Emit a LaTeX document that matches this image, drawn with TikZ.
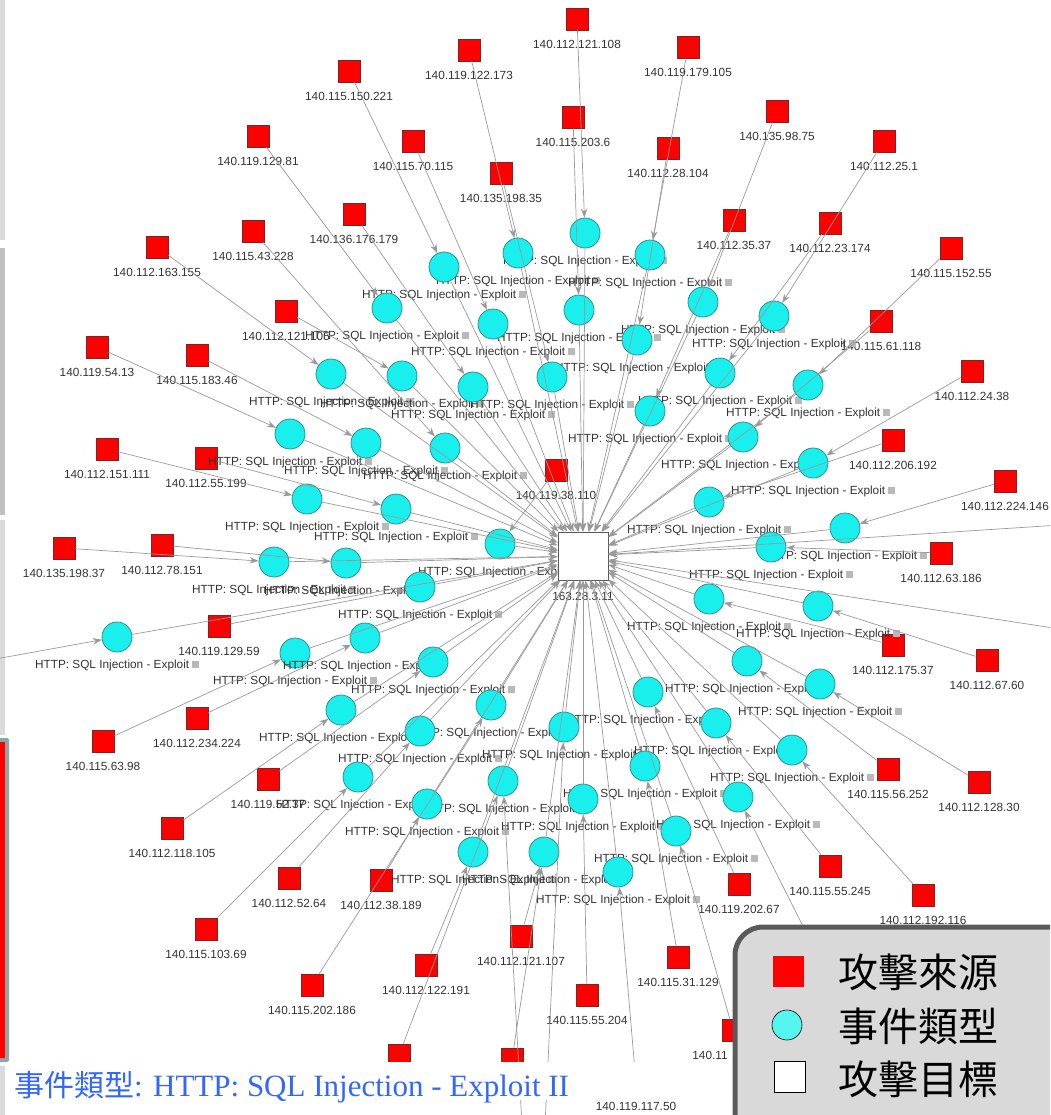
\documentclass[tikz,border=0pt]{standalone}
\usepackage{fontspec}
\setmainfont{Liberation Sans}
\newfontfamily\capfont{Liberation Serif}
\newfontfamily\cjkfont{Noto Sans CJK TC}
\usetikzlibrary{arrows.meta}

\definecolor{srcred}{HTML}{FF0000}
\definecolor{srcedge}{HTML}{7A2626}
\definecolor{evcyan}{HTML}{19F0EE}
\definecolor{evedge}{HTML}{2F8F8F}
\definecolor{linkgray}{HTML}{999999}
\definecolor{lbltxt}{HTML}{333333}
\definecolor{capblue}{HTML}{3366FF}
\definecolor{legfill}{HTML}{D9D9D9}
\definecolor{legline}{HTML}{5A5A5A}
\definecolor{legcyan}{HTML}{55F5F0}
\definecolor{barlight}{HTML}{DADADA}
\definecolor{bardark}{HTML}{C0C0C0}
\definecolor{barframe}{HTML}{8FA5A5}

\newcommand{\evtxt}{HTTP: SQL Injection - Exploit \textcolor{gray!55}{\rule{0.55em}{0.62em}}}

\tikzset{
  src/.style={draw=srcedge,fill=srcred,line width=0.8pt,minimum size=22pt,inner sep=0pt},
  ev/.style={circle,draw=evedge,fill=evcyan,line width=0.8pt,minimum size=30pt,inner sep=0pt},
  tgt/.style={draw=legline,fill=white,line width=0.8pt,minimum width=50pt,minimum height=48pt,inner sep=0pt},
  ip/.style={font=\fontsize{11.8}{13}\selectfont,text=lbltxt,inner sep=1pt},
  srclbl/.style={ip,yshift=-9pt},
  evlbl/.style={ip,yshift=-6pt},
  tgtlbl/.style={ip,yshift=-11pt},
  link/.style={draw=linkgray,line width=0.7pt,-{Stealth[length=9pt,width=6.5pt]}},
  legtxt/.style={font=\cjkfont\fontsize{40}{44}\selectfont,inner sep=0pt}
}

\begin{document}
\begin{tikzpicture}[x=1pt,y=-1pt]
\useasboundingbox (0,0) rectangle (1050,1115);
\clip (0,0) rectangle (1050,1115);

% side bars of the slide
\fill [barlight] (0,0) rectangle (5,240);
\fill [bardark] (0,248) rectangle (5,515);
\fill [barlight] (0,520) rectangle (5,735);
\fill [barframe,rounded corners=2pt] (-4,738) rectangle (9,1062);
\fill [srcred] (0,742) rectangle (5,1058);
\fill [barlight] (0,1066) rectangle (5,1115);

% attack sources
\node [src,label={[srclbl]below:140.112.121.108}] (s1) at (577,19) {};
\node [src,label={[srclbl]below:140.119.122.173}] (s2) at (469,50) {};
\node [src,label={[srclbl]below:140.119.179.105}] (s3) at (688,47) {};
\node [src,label={[srclbl]below:140.115.150.221}] (s4) at (349,71) {};
\node [src,label={[srclbl]below:140.115.203.6}] (s5) at (573,117) {};
\node [src,label={[srclbl]below:140.135.98.75}] (s6) at (777,111) {};
\node [src,label={[srclbl]below:140.119.129.81}] (s7) at (258,136) {};
\node [src,label={[srclbl]below:140.115.70.115}] (s8) at (413,141) {};
\node [src,label={[srclbl]below:140.112.28.104}] (s9) at (668,148) {};
\node [src,label={[srclbl]below:140.112.25.1}] (s10) at (884,141) {};
\node [src,label={[srclbl]below:140.135.198.35}] (s11) at (501,173) {};
\node [src,label={[srclbl]below:140.136.176.179}] (s12) at (354,214) {};
\node [src,label={[srclbl]below:140.112.35.37}] (s13) at (734,220) {};
\node [src,label={[srclbl]below:140.112.23.174}] (s14) at (830,223) {};
\node [src,label={[srclbl]below:140.112.163.155}] (s15) at (157,247) {};
\node [src,label={[srclbl]below:140.115.43.228}] (s16) at (253,231) {};
\node [src,label={[srclbl]below:140.115.152.55}] (s17) at (951,248) {};
\node [src,label={[srclbl]below:140.112.121.105}] (s18) at (286,311) {};
\node [src,label={[srclbl]below:140.115.61.118}] (s19) at (881,321) {};
\node [src,label={[srclbl]below:140.119.54.13}] (s20) at (97,347) {};
\node [src,label={[srclbl]below:140.115.183.46}] (s21) at (197,355) {};
\node [src,label={[srclbl]below:140.112.24.38}] (s22) at (972,371) {};
\node [src,label={[srclbl]below:140.112.151.111}] (s23) at (107,449) {};
\node [src,label={[srclbl]below:140.112.55.199}] (s24) at (206,458) {};
\node [src,label={[srclbl]below:140.112.206.192}] (s25) at (893,440) {};
\node [src,label={[srclbl]below:140.119.38.110}] (s26) at (556,470) {};
\node [src,label={[srclbl]below:140.112.224.146}] (s27) at (1005,481) {};
\node [src,label={[srclbl]below:140.135.198.37}] (s28) at (64,548) {};
\node [src,label={[srclbl]below:140.112.78.151}] (s29) at (162,545) {};
\node [src,label={[srclbl]below:140.112.63.186}] (s30) at (941,553) {};
\node [src,label={[srclbl]below:140.119.129.59}] (s31) at (219,626) {};
\node [src,label={[srclbl]below:140.112.175.37}] (s32) at (893,645) {};
\node [src,label={[srclbl]below:140.112.67.60}] (s33) at (987,660) {};
\node [src,label={[srclbl]below:140.112.234.224}] (s34) at (197,718) {};
\node [src,label={[srclbl]below:140.115.63.98}] (s35) at (103,741) {};
\node [src,label={[srclbl]below:140.119.52.37}] (s36) at (268,779) {};
\node [src,label={[srclbl]below:140.115.56.252}] (s37) at (888,769) {};
\node [src,label={[srclbl]below:140.112.128.30}] (s38) at (979,782) {};
\node [src,label={[srclbl]below:140.112.118.105}] (s39) at (172,828) {};
\node [src,label={[srclbl]below:140.112.52.64}] (s40) at (289,878) {};
\node [src,label={[srclbl]below:140.112.38.189}] (s41) at (381,880) {};
\node [src,label={[srclbl]below:140.115.55.245}] (s42) at (830,866) {};
\node [src,label={[srclbl]below:140.119.202.67}] (s43) at (739,884) {};
\node [src,label={[srclbl]below:140.112.192.116}] (s44) at (923,895) {};
\node [src,label={[srclbl]below:140.115.103.69}] (s45) at (206,929) {};
\node [src,label={[srclbl]below:140.112.121.107}] (s46) at (521,936) {};
\node [src,label={[srclbl]below:140.115.31.129}] (s47) at (678,957) {};
\node [src,label={[srclbl]below:140.112.122.191}] (s48) at (426,965) {};
\node [src,label={[srclbl]below:140.115.55.204}] (s49) at (587,995) {};
\node [src,label={[srclbl]below:140.115.202.186}] (s50) at (312,985) {};
\node [src] (s51) at (399,1055) {};
\node [src] (s52) at (512,1059) {};
\node [src,label={[srclbl,yshift=2pt]below:140.119.117.50}] (s53) at (636,1083) {};
\node [src,label={[srclbl,xshift=-23pt]below:140.11}] (s54) at (733,1030) {};
\coordinate (h55) at (835,990);
\coordinate (oL) at (-10,660);
\coordinate (oR1) at (1060,525);
\coordinate (oR2) at (1060,629);
\coordinate (oB1) at (545,1125);
\coordinate (oB2) at (522,1125);

% event type nodes
\foreach \n/\x/\y in {1/585/233, 2/518/253, 3/650/255, 4/444/267, 5/579/310, 6/387/308,
  7/703/302, 8/493/324, 9/637/340, 10/774/316, 11/331/374, 12/402/376, 13/552/377,
  14/473/387, 15/720/373, 16/808/385, 17/650/411, 18/290/434, 19/366/443, 20/445/448,
  21/743/437, 22/813/463, 23/307/499, 24/709/502, 25/396/509, 26/845/528, 27/500/544,
  28/771/547, 29/274/562, 30/346/563, 31/420/587, 32/709/599, 33/818/606, 34/117/637,
  35/295/653, 36/365/638, 37/433/662, 38/747/661, 39/820/684, 40/648/692, 41/491/705,
  42/341/710, 43/420/731, 44/564/727, 45/716/723, 46/792/750, 47/503/781, 48/645/766,
  49/358/777, 50/427/804, 51/583/799, 52/738/797, 53/676/831, 54/473/852, 55/544/852,
  56/618/872}
  \node [ev,label={[evlbl]below:\evtxt}] (e\n) at (\x,\y) {};

% attack target
\node [tgt,label={[tgtlbl]below:163.28.3.11}] (t) at (583,556) {};

% source -> event
\foreach \s/\e in {s1/e1, s2/e2, s3/e3, s4/e4, s5/e5, s7/e6, s6/e7, s8/e8, s9/e9,
  s10/e10, s15/e11, s18/e12, s11/e13, s12/e14, s14/e15, s17/e16, s13/e17, s20/e18,
  s21/e19, s16/e20, s19/e21, s22/e22, s23/e23, s25/e24, s24/e25, s27/e26, s26/e27,
  s30/e28, s28/e29, s29/e30, s31/e31, s32/e32, s33/e33, oL/e34, s35/e35, s34/e36,
  s36/e37, s37/e38, s38/e39, s43/e40, s50/e41, s39/e42, s40/e43, oB1/e44, s42/e45,
  s44/e46, s51/e47, oB2/e47, s47/e48, s45/e49, s41/e50, s49/e51, h55/e52, s54/e53,
  s48/e54, s46/e55, s52/e55, s53/e56}
  \draw [link] (\s) -- (\e);

% event -> target
\foreach \n in {1,...,56}
  \draw [link] (e\n) -- (t);
\draw [link] (oR1) -- (t);
\draw [link] (oR2) -- (t);

% caption
\fill [white] (8,1062) rectangle (733,1100);
\node [anchor=west,text=capblue,inner sep=0pt] (cap) at (14,1087)
  {{\cjkfont\fontsize{30}{34}\selectfont 事件類型}{\capfont\fontsize{31}{34}\selectfont : HTTP: SQL Injection - Exploit II}};

% legend
\draw [draw=legline,fill=legfill,line width=5pt,rounded corners=28pt] (735,927) rectangle (1080,1140);
\node [fill=srcred,minimum size=31pt,inner sep=0pt] (lg1) at (788,971) {};
\node [circle,draw=black,fill=legcyan,line width=0.6pt,minimum size=30pt,inner sep=0pt] (lg2) at (787,1025) {};
\node [draw=black,fill=white,line width=0.6pt,minimum size=31pt,inner sep=0pt] (lg3) at (790,1077) {};
\node [legtxt] (lt1) at (918,972) {攻擊來源};
\node [legtxt] (lt2) at (918,1026) {事件類型};
\node [legtxt] (lt3) at (918,1079) {攻擊目標};
\end{tikzpicture}
\end{document}
